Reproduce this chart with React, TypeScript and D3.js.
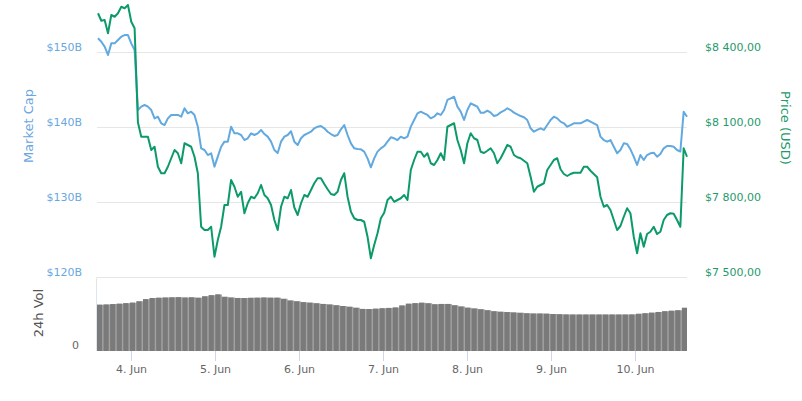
import * as d3 from "d3";

// 7-day window, points evenly spaced in time
const START = Date.UTC(2018, 5, 3, 14, 34);
const END = Date.UTC(2018, 5, 10, 14, 51);

// Market cap, $B
const marketCap = [
  151.89, 151.44, 150.78, 149.67, 151.22, 151.22, 151.67, 152.11, 152.33, 152.33,
  151.22, 150.33, 142.33, 142.78, 143.0, 142.78, 142.33, 141.22, 141.44, 140.56,
  140.33, 141.22, 141.67, 141.67, 141.67, 141.44, 142.56, 141.89, 142.11, 141.67,
  140.11, 137.22, 137.0, 136.33, 136.56, 134.78, 136.11, 137.44, 138.11, 138.11,
  140.11, 139.22, 139.22, 139.0, 138.33,
  138.56, 139.22, 139.0, 139.22, 139.67, 139.13, 138.78, 138.11, 137.0, 136.6,
  138.11, 138.78, 139.0, 139.5, 138.11, 137.67, 138.56, 139.0, 139.22, 139.44,
  139.89, 140.11, 140.2, 139.89, 139.44, 139.13, 138.87, 139.0, 139.76, 140.33,
  139.0, 137.89, 137.22, 137.13, 137.09, 136.78, 135.89, 134.69, 135.89, 136.78,
  137.22, 137.53, 138.11, 138.69, 138.56,
  138.33, 138.78, 138.56, 138.78, 140.11, 141.0, 141.89, 142.11, 141.89, 141.67,
  141.22, 141.44, 141.89, 141.67, 142.33, 143.67, 143.89, 144.11, 142.78, 142.11,
  141.0, 142.33, 143.22, 143.0, 142.78, 141.98, 141.98, 142.24, 141.98, 141.53,
  141.67, 142.02, 142.24, 142.56, 142.33, 141.98, 141.76, 141.53, 141.36, 141.0,
  139.89, 139.44, 139.67, 139.89, 139.67,
  140.33, 141.0, 141.44, 141.22, 140.78, 140.56, 140.11, 140.33, 140.56, 140.56,
  140.56, 140.78, 141.0, 140.78, 140.56, 140.33, 138.78, 138.33, 138.11, 138.33,
  137.44, 136.56, 137.0, 137.89, 137.8, 137.09, 136.11, 135.0, 136.33, 135.67,
  136.33, 136.56, 136.64, 136.11, 136.47, 137.22, 137.53, 137.53, 137.44, 137.0,
  136.8, 142.1, 141.44,
];

// Price, USD
const price = [
  8557, 8527, 8530, 8477, 8550, 8543, 8557, 8583, 8577, 8590,
  8523, 8497, 8120, 8063, 8063, 8063, 8010, 8023, 7943, 7917,
  7917, 7943, 7977, 8010, 7997, 7957, 8037, 8030, 8023, 7983,
  7917, 7703, 7690, 7690, 7703, 7583, 7650, 7703, 7790, 7790,
  7890, 7863, 7823, 7843, 7757,
  7797, 7823, 7817, 7837, 7870, 7830, 7817, 7790, 7730, 7690,
  7783, 7823, 7817, 7850, 7780, 7750, 7797, 7830, 7823, 7850,
  7877, 7897, 7897, 7874, 7853, 7834, 7830, 7843, 7890, 7917,
  7823, 7763, 7737, 7730, 7730, 7723, 7663, 7577, 7630, 7677,
  7737, 7759, 7810, 7823, 7803,
  7810, 7817, 7830, 7810, 7930, 7970, 8003, 8003, 7983, 7997,
  7957, 7950, 7970, 7997, 7970, 8103, 8110, 8117, 8050, 8010,
  7957, 8037, 8077, 8057, 8050, 8003, 7998, 8007, 8017, 7997,
  7957, 7977, 8003, 8030, 8023, 7990, 7981, 7977, 7967, 7957,
  7903, 7843, 7863, 7870, 7877,
  7930, 7950, 7970, 7977, 7933, 7914, 7906, 7914, 7919, 7919,
  7919, 7943, 7943, 7927, 7914, 7901, 7823, 7783, 7790, 7770,
  7730, 7690, 7706, 7743, 7777, 7757, 7663, 7597, 7677, 7623,
  7674, 7683, 7703, 7674, 7683, 7730, 7750, 7757, 7755, 7730,
  7703, 8017, 7983,
];

// 24h volume, $B
const volume = [
  4.66, 4.68, 4.72, 4.76, 4.82, 4.87, 5.0, 5.22, 5.33, 5.36,
  5.38, 5.4, 5.42, 5.38, 5.4, 5.36, 5.5, 5.62, 5.7, 5.45,
  5.38, 5.34, 5.33, 5.35, 5.37, 5.38, 5.37, 5.37, 5.25, 5.08,
  5.0, 4.92, 4.87, 4.8, 4.74, 4.68, 4.6, 4.53, 4.45, 4.35,
  4.24, 4.22, 4.26, 4.3, 4.34, 4.38, 4.58, 4.76, 4.82, 4.86,
  4.8, 4.7, 4.74, 4.74, 4.6, 4.48, 4.36, 4.28, 4.2, 4.1,
  4.0, 3.95, 3.92, 3.88, 3.84, 3.8, 3.77, 3.77, 3.76, 3.72,
  3.7, 3.68, 3.67, 3.67, 3.67, 3.67, 3.67, 3.67, 3.67, 3.67,
  3.67, 3.68, 3.74, 3.8, 3.86, 3.93, 4.0, 4.05, 4.1, 4.36,
];

const capTicks = [120, 130, 140, 150];
const priceTicks = [7500, 7800, 8100, 8400];
const dayTicks = [4, 5, 6, 7, 8, 9, 10].map((d) => new Date(Date.UTC(2018, 5, d)));

const W = 802;
const H = 401;
const X0 = 97;
const X1 = 687;
const V_TOP = 277.5;
const V_BOT = 351;

const BLUE = "#62a9e0";
const BLUE_TEXT = "#6aa7df";
const GREEN = "#0c9b68";
const GREEN_TEXT = "#1f9a6c";
const FONT = "'DejaVu Sans', Verdana, sans-serif";

const priceFmt = d3
  .formatLocale({ decimal: ",", thousands: " ", grouping: [3], currency: ["$", ""] })
  .format("$,.2f");
const dayFmt = d3.utcFormat("%-d. %b");

export default function App() {
  const x = d3.scaleUtc().domain([START, END]).range([X0 + 1, X1]);
  const yCap = d3.scaleLinear().domain([120, 150]).range([277.5, 52.5]);
  const yPrice = d3.scaleLinear().domain([7500, 8400]).range([277.5, 52.5]);
  const yVol = d3.scaleLinear().domain([0, 7.4]).range([V_BOT, V_TOP]);
  const band = d3.scaleBand<number>().domain(d3.range(volume.length)).range([X0, X1]).paddingInner(0.22);

  const tAt = (n: number) => (i: number) => START + (i * (END - START)) / (n - 1);
  const tCap = tAt(marketCap.length);
  const tPrice = tAt(price.length);

  const capLine = d3
    .line<number>()
    .x((_, i) => x(tCap(i)))
    .y((d) => yCap(d))(marketCap) ?? "";
  const priceLine = d3
    .line<number>()
    .x((_, i) => x(tPrice(i)))
    .y((d) => yPrice(d))(price) ?? "";

  const volBack = d3
    .area<number>()
    .curve(d3.curveStepAfter)
    .x((_, i) => (i === volume.length - 1 ? X1 : band(i) ?? 0))
    .y0(V_BOT)
    .y1((d) => yVol(d))(volume) ?? "";

  return (
    <svg
      width={W}
      height={H}
      style={{ position: "absolute", left: 0, top: 0, background: "#fff" }}
      fontFamily={FONT}
    >
      {/* grid */}
      {capTicks.map((t) => (
        <line key={t} x1={X0} x2={X1} y1={yCap(t)} y2={yCap(t)} stroke="#e6e6e6" strokeWidth={1} />
      ))}
      <line x1={X0 - 0.5} x2={X0 - 0.5} y1={V_TOP} y2={V_BOT} stroke="#e0e4ec" />

      {/* volume */}
      <path d={volBack} fill="#a2a2a2" />
      {volume.map((v, i) => (
        <rect
          key={i}
          x={band(i)}
          width={band.bandwidth()}
          y={yVol(v)}
          height={V_BOT - yVol(v)}
          fill="#7a7a7a"
        />
      ))}

      {/* lines */}
      <path d={capLine} fill="none" stroke={BLUE} strokeWidth={2} strokeLinejoin="round" />
      <path d={priceLine} fill="none" stroke={GREEN} strokeWidth={2} strokeLinejoin="round" />

      {/* left axis */}
      {capTicks.map((t) => (
        <text key={t} x={82} y={yCap(t) - 2} textAnchor="end" fontSize={11} fill={BLUE_TEXT}>
          {`$${t}B`}
        </text>
      ))}
      <text transform="translate(33,126) rotate(-90)" textAnchor="middle" fontSize={13} fill={BLUE_TEXT}>
        Market Cap
      </text>

      {/* right axis */}
      {priceTicks.map((t) => (
        <text key={t} x={705} y={yPrice(t) - 2} fontSize={11} fill={GREEN_TEXT}>
          {priceFmt(t)}
        </text>
      ))}
      <text transform="translate(781,128) rotate(90)" textAnchor="middle" fontSize={13} fill={GREEN_TEXT}>
        Price (USD)
      </text>

      {/* volume axis */}
      <text x={79} y={349} textAnchor="end" fontSize={11} fill="#666">
        0
      </text>
      <text transform="translate(43,313) rotate(-90)" textAnchor="middle" fontSize={13} fill="#555">
        24h Vol
      </text>

      {/* x axis */}
      {dayTicks.map((d) => {
        const px = Math.round(x(d)) + 0.5;
        return (
          <g key={d.getTime()}>
            <line x1={px} x2={px} y1={V_BOT} y2={361} stroke="#ccd6eb" />
            <text x={px} y={373} textAnchor="middle" fontSize={11} fill="#666">
              {dayFmt(d)}
            </text>
          </g>
        );
      })}
    </svg>
  );
}
